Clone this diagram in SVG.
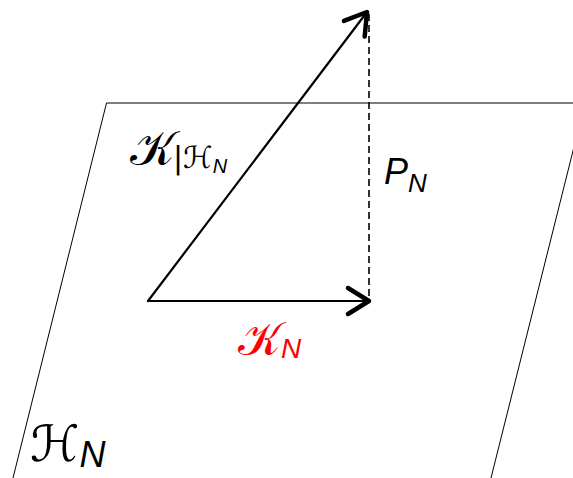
<svg xmlns="http://www.w3.org/2000/svg" width="573" height="478" viewBox="0 0 573 478">
<style>
.plane{fill:none;stroke:#000;stroke-width:1}
.vec{fill:none;stroke:#000;stroke-width:2.2;stroke-linecap:round}
.dash{fill:none;stroke:#000;stroke-width:1.6;stroke-dasharray:7 4}
.lbl{font-family:"DejaVu Sans",sans-serif;fill:#000}
.it{font-family:"Liberation Sans",sans-serif;font-style:italic}
</style>
<defs>
<marker id="head" markerUnits="userSpaceOnUse" orient="auto" markerWidth="40" markerHeight="40" refX="0" refY="0" viewBox="-30 -20 40 40" overflow="visible">
<path d="M -21 -13 L 0 0 L -21 13" fill="none" stroke="#000" stroke-width="4.5" stroke-linecap="round" stroke-linejoin="round"/>
</marker>
</defs>
<rect width="573" height="478" fill="#fff"/>
<g id="plane">
<path class="plane" d="M 585 103 L 106.5 103 L 13 478 M 585 103 L 491 478"/>
</g>
<g id="connectors">
<line class="vec" x1="148" y1="301" x2="367" y2="12" marker-end="url(#head)"/>
<line class="vec" x1="148" y1="301" x2="369" y2="301" marker-end="url(#head)"/>
<line class="dash" x1="369" y1="14" x2="369" y2="297"/>
</g>
<g id="label-K-restricted">
<text class="lbl" x="130" y="165" font-size="48">𝒦<tspan font-size="30" dx="-2" dy="3">|ℋ</tspan><tspan class="it" font-size="20" dy="5">N</tspan></text>
</g>
<g id="label-PN">
<text class="lbl" x="384" y="184" font-size="36"><tspan class="it">P</tspan><tspan class="it" font-size="26" dy="8">N</tspan></text>
</g>
<g id="label-KN">
<text class="lbl" x="238" y="355" font-size="46" fill="#f00" style="fill:#f00">𝒦<tspan class="it" font-size="28" dy="3">N</tspan></text>
</g>
<g id="label-HN">
<text class="lbl" x="30" y="461" font-size="50">ℋ<tspan class="it" font-size="36" dy="6">N</tspan></text>
</g>
</svg>
